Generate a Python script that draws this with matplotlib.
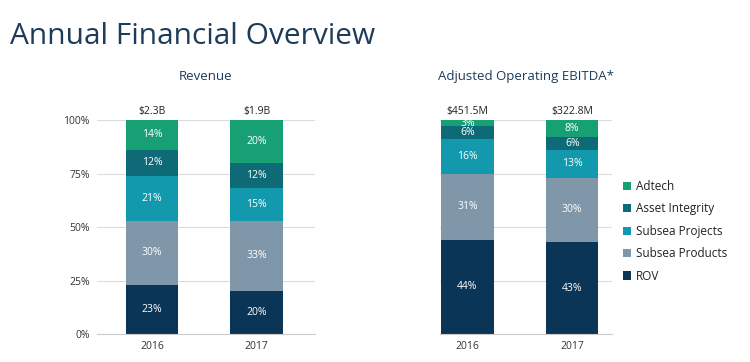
import numpy as np
import matplotlib.pyplot as plt

plt.rcParams['font.family'] = ['Open Sans', 'DejaVu Sans']

# data
years = ['2016', '2017']
segments = ['ROV', 'Subsea Products', 'Subsea Projects', 'Asset Integrity', 'Adtech']
colors = ['#0b3556', '#7f97a8', '#1299ae', '#0f6a78', '#17a074']

revenue_rov = [23, 20]
revenue_products = [30, 33]
revenue_projects = [21, 15]
revenue_integrity = [12, 12]
revenue_adtech = [14, 20]
revenue_totals = ['$2.3B', '$1.9B']

ebitda_rov = [44, 43]
ebitda_products = [31, 30]
ebitda_projects = [16, 13]
ebitda_integrity = [6, 6]
ebitda_adtech = [3, 8]
ebitda_totals = ['$451.5M', '$322.8M']

revenue = [revenue_rov, revenue_products, revenue_projects, revenue_integrity, revenue_adtech]
ebitda = [ebitda_rov, ebitda_products, ebitda_projects, ebitda_integrity, ebitda_adtech]

fig = plt.figure(figsize=(7.5, 3.62), dpi=100)
fig.text(0.014, 0.9, 'Annual Financial Overview', fontsize=21.5, color='#1d3c5a', va='center')

ax1 = fig.add_axes([0.129, 0.0773, 0.291, 0.5912])
ax2 = fig.add_axes([0.587, 0.0773, 0.229, 0.5912])

def draw(ax, data, totals, title, xlim):
    x = np.arange(len(years))
    bottom = np.zeros(len(years))
    handles = []
    for vals, name, c in zip(data, segments, colors):
        b = ax.bar(x, vals, 0.5, bottom=bottom, color=c, label=name, zorder=2)
        handles.append(b)
        for xi, v, bt in zip(x, vals, bottom):
            ax.text(xi, bt + v / 2, f'{v}%', ha='center', va='center', color='white', fontsize=7.5, zorder=3)
        bottom += np.array(vals)
    for xi, t in zip(x, totals):
        ax.text(xi, 101.5, t, ha='center', va='bottom', fontsize=7.5, color='#222222')
    ax.set_ylim(0, 100)
    ax.set_xlim(*xlim)
    ax.set_yticks([0, 25, 50, 75, 100])
    ax.yaxis.grid(True, color='#dcdcdc', linewidth=0.8, zorder=0)
    ax.set_xticks(x)
    ax.set_xticklabels(years, fontsize=7.5, color='#333333')
    ax.tick_params(length=0, pad=5)
    for s in ['top', 'right', 'left']:
        ax.spines[s].set_visible(False)
    ax.spines['bottom'].set_color('#cccccc')
    ax.set_title(title, fontsize=9.5, color='#1d3c5a', pad=29)
    return handles

draw(ax1, revenue, revenue_totals, 'Revenue', (-0.53, 1.56))
ax1.set_yticklabels(['0%', '25%', '50%', '75%', '100%'], fontsize=7.5, color='#333333')
h = draw(ax2, ebitda, ebitda_totals, 'Adjusted Operating EBITDA*', (-0.26, 1.38))
ax2.set_yticklabels([])

ax2.legend(h[::-1], segments[::-1], loc='center left', bbox_to_anchor=(1.0, 0.48), frameon=False,
           fontsize=8.5, handlelength=0.7, handleheight=0.7, handletextpad=0.4, labelspacing=0.8,
           labelcolor='#222222')

fig.savefig('out.png', dpi=100)
